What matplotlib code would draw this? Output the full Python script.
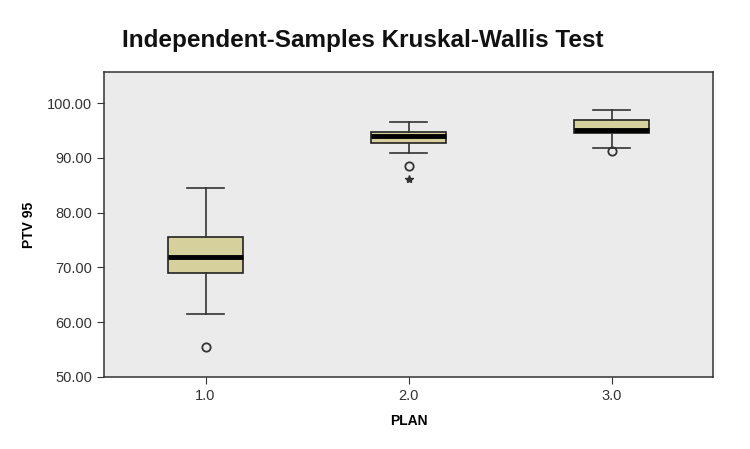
import matplotlib
matplotlib.use("Agg")
import matplotlib.pyplot as plt

plt.rcParams["font.family"] = ["Liberation Sans", "DejaVu Sans"]

# box plot summary values
plans = ["1.0", "2.0", "3.0"]
whislo = [61.5, 91.0, 91.9]
q1 = [69.0, 92.8, 94.6]
med = [71.9, 94.0, 95.1]
q3 = [75.5, 94.7, 96.9]
whishi = [84.6, 96.6, 98.8]
circle_outliers = [[55.5], [88.6], [91.2]]
star_outliers = [[], [86.2], []]

stats = []
for i in range(3):
    stats.append(dict(whislo=whislo[i], q1=q1[i], med=med[i], q3=q3[i],
                      whishi=whishi[i], fliers=circle_outliers[i], label=plans[i]))

fig = plt.figure(figsize=(7.5, 4.49), dpi=100)
ax = fig.add_axes([0.1387, 0.1604, 0.812, 0.6792])
ax.set_facecolor("#ebebeb")

ax.bxp(stats, positions=[1, 2, 3], widths=0.365, patch_artist=True,
       boxprops=dict(facecolor="#d6d09c", edgecolor="#222222", linewidth=1.2),
       medianprops=dict(color="black", linewidth=3.5),
       whiskerprops=dict(color="#333333", linewidth=1.2),
       capprops=dict(color="#333333", linewidth=1.2),
       capwidths=0.18,
       flierprops=dict(marker="o", markerfacecolor="none", markeredgecolor="#333333",
                       markersize=6, markeredgewidth=1.3))

for i in range(3):
    if star_outliers[i]:
        ax.plot([i + 1] * len(star_outliers[i]), star_outliers[i], marker="*",
                linestyle="none", color="#333333", markersize=6)

ax.set_xlim(0.5, 3.5)
ax.set_ylim(50, 105.7)
ax.set_yticks([50, 60, 70, 80, 90, 100])
ax.set_yticklabels([f"{v:.2f}" for v in [50, 60, 70, 80, 90, 100]])
ax.tick_params(labelsize=10.5, colors="#333333", length=5)
for s in ax.spines.values():
    s.set_color("#333333")
    s.set_linewidth(1.1)

ax.set_xlabel("PLAN", fontsize=10, fontweight="bold", labelpad=8)
ax.set_ylabel("PTV 95", fontsize=10, fontweight="bold", labelpad=8)
fig.text(0.484, 0.91, "Independent-Samples Kruskal-Wallis Test", fontsize=17.5,
         fontweight="bold", ha="center", va="center", color="#111111")

fig.savefig("out.png", dpi=100)
